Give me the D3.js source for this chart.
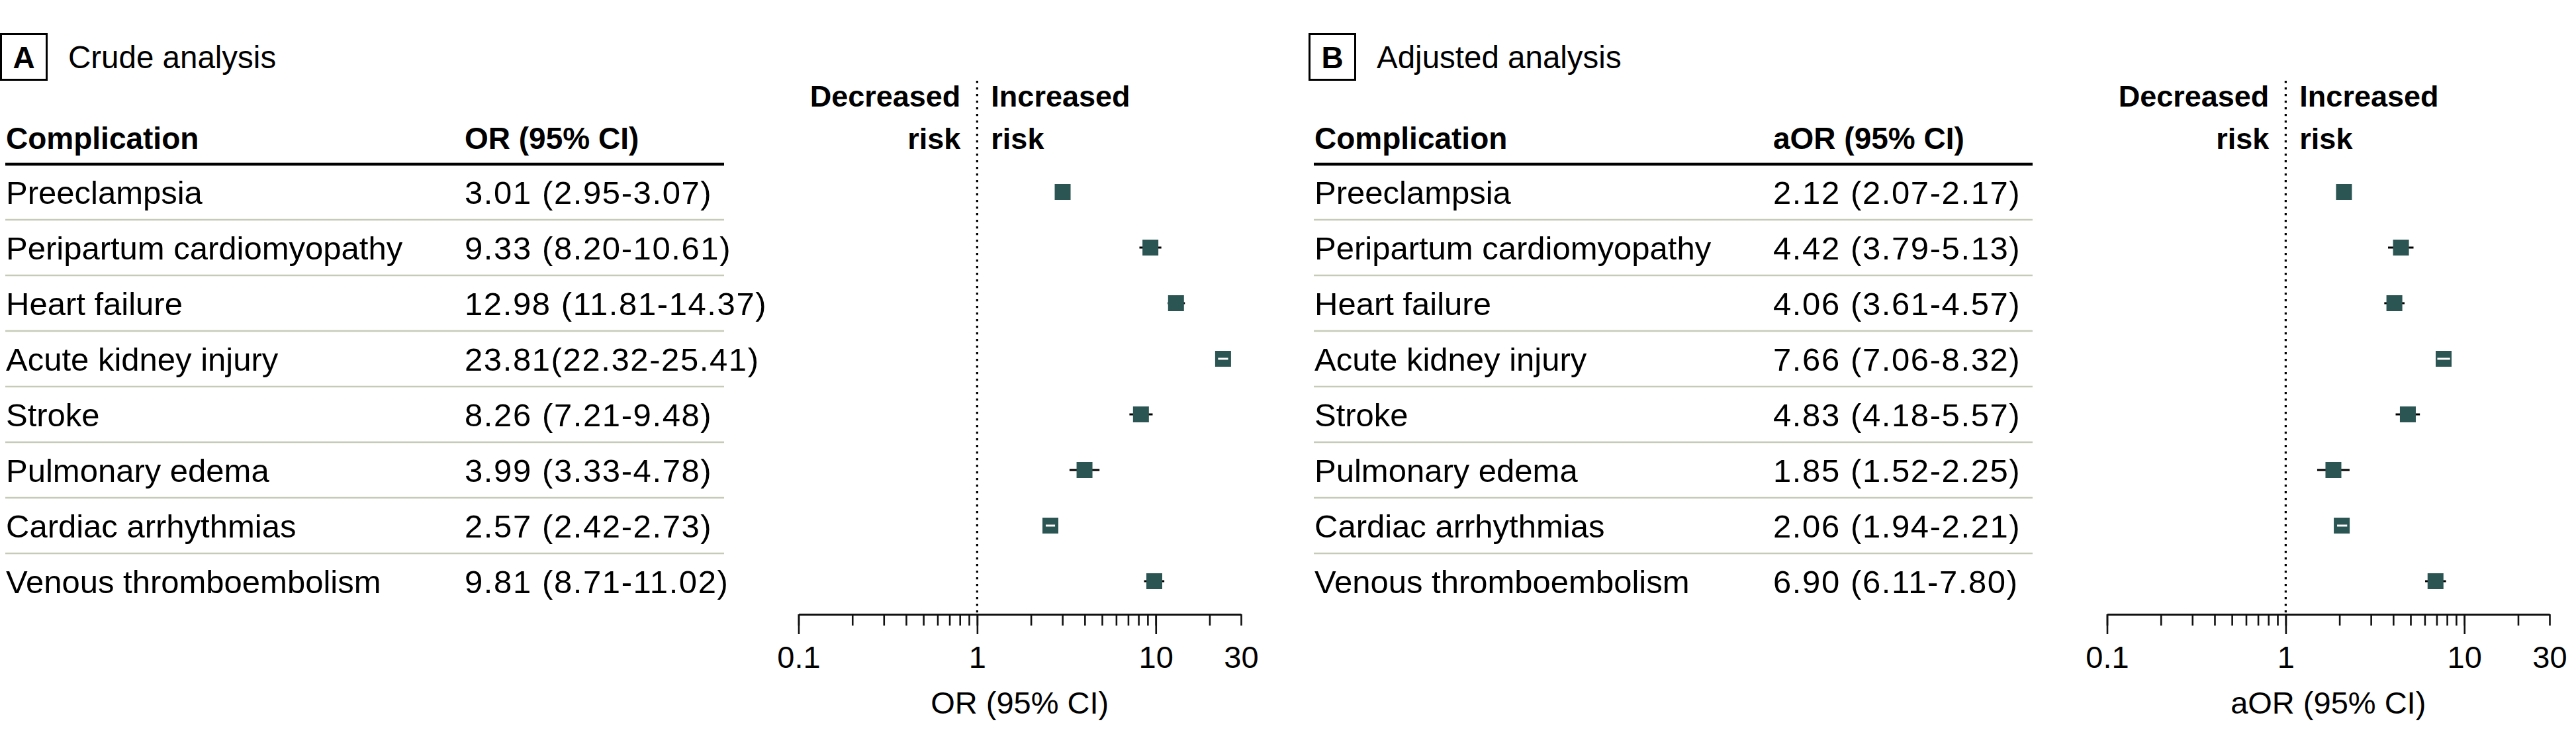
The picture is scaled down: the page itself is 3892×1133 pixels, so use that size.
<!DOCTYPE html>
<html>
<head>
<meta charset="utf-8">
<script src="https://cdn.jsdelivr.net/npm/d3@7"></script>
<style>
  html, body { margin: 0; padding: 0; background: #fff; }
  svg { display: block; }
  text { font-family: "Liberation Sans", Arial, sans-serif; fill: #000; }
</style>
</head>
<body>
<svg id="chart" width="3892" height="1133"></svg>
<script>
// ---------- DATA ----------
const complications = [
  "Preeclampsia",
  "Peripartum cardiomyopathy",
  "Heart failure",
  "Acute kidney injury",
  "Stroke",
  "Pulmonary edema",
  "Cardiac arrhythmias",
  "Venous thromboembolism"
];

// Panel A: crude analysis
const crudeOR   = [3.01, 9.33, 12.98, 23.81, 8.26, 3.99, 2.57, 9.81];
const crudeLow  = [2.95, 8.20, 11.81, 22.32, 7.21, 3.33, 2.42, 8.71];
const crudeHigh = [3.07, 10.61, 14.37, 25.41, 9.48, 4.78, 2.73, 11.02];
const crudeLabels = [
  "3.01 (2.95-3.07)",
  "9.33 (8.20-10.61)",
  "12.98 (11.81-14.37)",
  "23.81(22.32-25.41)",
  "8.26 (7.21-9.48)",
  "3.99 (3.33-4.78)",
  "2.57 (2.42-2.73)",
  "9.81 (8.71-11.02)"
];

// Panel B: adjusted analysis
const adjOR   = [2.12, 4.42, 4.06, 7.66, 4.83, 1.85, 2.06, 6.90];
const adjLow  = [2.07, 3.79, 3.61, 7.06, 4.18, 1.52, 1.94, 6.11];
const adjHigh = [2.17, 5.13, 4.57, 8.32, 5.57, 2.25, 2.21, 7.80];
const adjLabels = [
  "2.12 (2.07-2.17)",
  "4.42 (3.79-5.13)",
  "4.06 (3.61-4.57)",
  "7.66 (7.06-8.32)",
  "4.83 (4.18-5.57)",
  "1.85 (1.52-2.25)",
  "2.06 (1.94-2.21)",
  "6.90 (6.11-7.80)"
];

// Axis ticks
const minorTicks = [0.1,0.2,0.3,0.4,0.5,0.6,0.7,0.8,0.9,1,2,3,4,5,6,7,8,9,10,20,30];
const majorTicks = [0.1, 1, 10];
const labelTicks = [0.1, 1, 10, 30];
const tickLabels = ["0.1", "1", "10", "30"];

const panels = [
  { letter: "A", title: "Crude analysis", valueHeader: "OR (95% CI)", axisTitle: "OR (95% CI)",
    est: crudeOR, lo: crudeLow, hi: crudeHigh, labels: crudeLabels },
  { letter: "B", title: "Adjusted analysis", valueHeader: "aOR (95% CI)", axisTitle: "aOR (95% CI)",
    est: adjOR, lo: adjLow, hi: adjHigh, labels: adjLabels }
];

// ---------- LAYOUT ----------
const svg = d3.select("#chart");
const panelOffset = 1977;
const markerColor = "#2b5553";
const sepColor = "#c6cbb8";
const sq = 24;

const y = d3.scalePoint().domain(complications).range([290, 878]);
const rowStep = y.step();

panels.forEach((p, pi) => {
  const g = svg.append("g").attr("transform", `translate(${pi * panelOffset},0)`);
  const x = d3.scaleLog().domain([0.1, 30]).range([1206.5, 1875]);
  const axisY = 928;

  // Panel letter box + title
  g.append("rect").attr("x", 1.5).attr("y", 51.5).attr("width", 69).attr("height", 69)
    .attr("fill", "none").attr("stroke", "#000").attr("stroke-width", 3);
  g.append("text").attr("x", 36).attr("y", 103).attr("text-anchor", "middle")
    .attr("font-size", 46).attr("font-weight", "bold").text(p.letter);
  g.append("text").attr("x", 103).attr("y", 103).attr("font-size", 47.5).text(p.title);

  // Table header
  g.append("text").attr("x", 9).attr("y", 225).attr("font-size", 46).attr("font-weight", "bold")
    .text("Complication");
  g.append("text").attr("x", 702).attr("y", 225).attr("font-size", 46).attr("font-weight", "bold")
    .text(p.valueHeader);
  g.append("line").attr("x1", 8).attr("x2", 1094).attr("y1", 248).attr("y2", 248)
    .attr("stroke", "#000").attr("stroke-width", 4.5);

  // Row separators
  g.selectAll("line.sep").data(complications.slice(1)).join("line").attr("class", "sep")
    .attr("x1", 8).attr("x2", 1094)
    .attr("y1", d => y(d) - rowStep / 2).attr("y2", d => y(d) - rowStep / 2)
    .attr("stroke", sepColor).attr("stroke-width", 2.5);

  // Row labels and values
  g.selectAll("text.lab").data(complications).join("text").attr("class", "lab")
    .attr("x", 9).attr("y", d => y(d) + 18).attr("font-size", 49).text(d => d);
  g.selectAll("text.val").data(p.labels).join("text").attr("class", "val")
    .attr("x", 702).attr("y", (d, i) => y(complications[i]) + 18)
    .attr("font-size", 49).attr("letter-spacing", 1.6).text(d => d);

  // Decreased / Increased risk
  const x1 = x(1);
  const dec = g.append("text").attr("text-anchor", "end").attr("font-size", 45).attr("font-weight", "bold");
  dec.append("tspan").attr("x", x1 - 25).attr("y", 161).text("Decreased");
  dec.append("tspan").attr("x", x1 - 25).attr("y", 225).text("risk");
  const inc = g.append("text").attr("text-anchor", "start").attr("font-size", 45).attr("font-weight", "bold");
  inc.append("tspan").attr("x", x1 + 21).attr("y", 161).text("Increased");
  inc.append("tspan").attr("x", x1 + 21).attr("y", 225).text("risk");

  // Reference dotted line
  g.append("line").attr("x1", x1).attr("x2", x1).attr("y1", 122).attr("y2", axisY)
    .attr("stroke", "#000").attr("stroke-width", 3.2).attr("stroke-dasharray", "3.2 6.8");

  // Axis: minor ticks
  const axMinor = d3.axisBottom(x).tickValues(minorTicks).tickSize(17).tickSizeOuter(0).tickFormat("");
  const gMinor = g.append("g").attr("transform", `translate(0,${axisY})`).call(axMinor);
  gMinor.select(".domain").attr("stroke", "#111").attr("stroke-width", 2.8);
  gMinor.selectAll(".tick line").attr("stroke", "#111").attr("stroke-width", 2.6);

  // Axis: major ticks
  const axMajor = d3.axisBottom(x).tickValues(majorTicks).tickSize(30).tickSizeOuter(0).tickFormat("");
  const gMajor = g.append("g").attr("transform", `translate(0,${axisY})`).call(axMajor);
  gMajor.select(".domain").remove();
  gMajor.selectAll(".tick line").attr("stroke", "#111").attr("stroke-width", 2.6);

  // Axis labels
  const axLab = d3.axisBottom(x).tickValues(labelTicks).tickSize(0).tickSizeOuter(0)
    .tickFormat((d, i) => tickLabels[i]);
  const gLab = g.append("g").attr("transform", `translate(0,${axisY})`).call(axLab);
  gLab.select(".domain").remove();
  gLab.selectAll(".tick text").attr("y", 81).attr("dy", null)
    .attr("font-size", 47).attr("font-family", "Liberation Sans, Arial, sans-serif").attr("fill", "#000");

  // Axis title
  g.append("text").attr("x", (x.range()[0] + x.range()[1]) / 2).attr("y", 1078)
    .attr("text-anchor", "middle").attr("font-size", 47).text(p.axisTitle);

  // CI lines
  const rows = complications.map((c, i) => ({ c, est: p.est[i], lo: p.lo[i], hi: p.hi[i] }));
  g.selectAll("line.ci").data(rows).join("line").attr("class", "ci")
    .attr("x1", d => x(d.lo)).attr("x2", d => x(d.hi))
    .attr("y1", d => y(d.c)).attr("y2", d => y(d.c))
    .attr("stroke", "#000").attr("stroke-width", 3).attr("stroke-linecap", "square");

  // Markers
  g.selectAll("rect.mk").data(rows).join("rect").attr("class", "mk")
    .attr("x", d => x(d.est) - sq / 2).attr("y", d => y(d.c) - sq / 2)
    .attr("width", sq).attr("height", sq).attr("fill", markerColor);

  // CI well inside marker drawn in white
  const inner = sq / 2 - 2;
  g.selectAll("line.ciw")
    .data(rows.filter(d => x(d.est) - x(d.lo) <= inner && x(d.hi) - x(d.est) <= inner && x(d.hi) - x(d.lo) >= 10))
    .join("line").attr("class", "ciw")
    .attr("x1", d => x(d.lo)).attr("x2", d => x(d.hi))
    .attr("y1", d => y(d.c)).attr("y2", d => y(d.c))
    .attr("stroke", "#fff").attr("stroke-width", 3);
});
</script>
</body>
</html>
